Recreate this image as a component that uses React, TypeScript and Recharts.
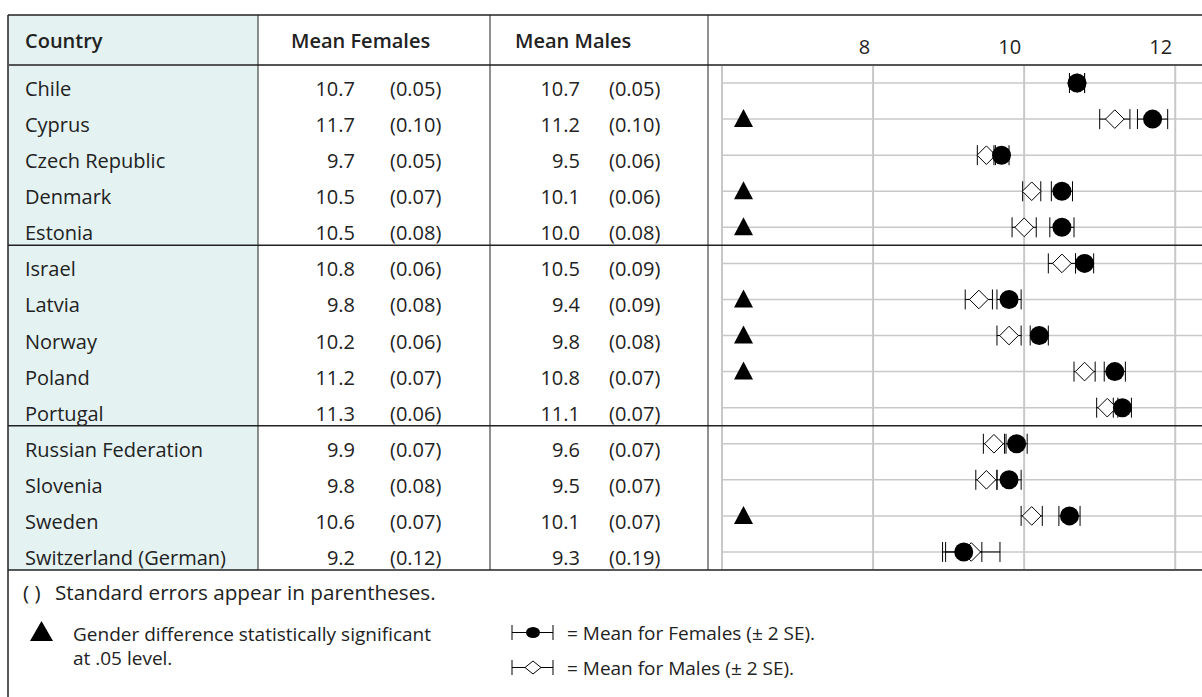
import React from 'react';
import {
  ScatterChart,
  Scatter,
  XAxis,
  YAxis,
  CartesianGrid,
  ErrorBar,
  ReferenceLine,
} from 'recharts';

// table / chart data
const countries = [
  'Chile',
  'Cyprus',
  'Czech Republic',
  'Denmark',
  'Estonia',
  'Israel',
  'Latvia',
  'Norway',
  'Poland',
  'Portugal',
  'Russian Federation',
  'Slovenia',
  'Sweden',
  'Switzerland (German)',
];
const femaleMean = [10.7, 11.7, 9.7, 10.5, 10.5, 10.8, 9.8, 10.2, 11.2, 11.3, 9.9, 9.8, 10.6, 9.2];
const femaleSE = [0.05, 0.1, 0.05, 0.07, 0.08, 0.06, 0.08, 0.06, 0.07, 0.06, 0.07, 0.08, 0.07, 0.12];
const maleMean = [10.7, 11.2, 9.5, 10.1, 10.0, 10.5, 9.4, 9.8, 10.8, 11.1, 9.6, 9.5, 10.1, 9.3];
const maleSE = [0.05, 0.1, 0.06, 0.06, 0.08, 0.09, 0.09, 0.08, 0.07, 0.07, 0.07, 0.07, 0.07, 0.19];
const significant = [false, true, false, true, true, false, true, true, true, false, false, false, true, false];
const groupEnds = [4, 9]; // divider drawn after these rows
const xTicks = [8, 10, 12];
const xDomain: [number, number] = [6, 12.5];

const FONT = '"Open Sans", "Noto Sans", sans-serif';
const INK = '#222';
const GRID = '#c8c8c8';

// layout
const TOP = 15;
const HEAD_BOTTOM = 65;
const BODY_BOTTOM = 570;
const ROW_H = (BODY_BOTTOM - HEAD_BOTTOM) / countries.length;
const COL_X = [258, 490, 708];

const rowIdx = countries.map((_, i) => i);
const femaleData = rowIdx.map((i) => ({ x: femaleMean[i], row: i, err: 2 * femaleSE[i] }));
const maleData = rowIdx.map((i) => ({ x: maleMean[i], row: i, err: 2 * maleSE[i] }));
const sigData = rowIdx.filter((i) => significant[i]).map((i) => ({ x: xDomain[0], row: i }));

const Circle = (p: any) => <circle cx={p.cx} cy={p.cy} r={9.5} fill="#000" />;
const Diamond = (p: any) => {
  const { cx, cy } = p;
  return (
    <polygon
      points={`${cx - 9.3},${cy} ${cx},${cy - 9.3} ${cx + 9.3},${cy} ${cx},${cy + 9.3}`}
      fill="#fff"
      stroke="#000"
      strokeWidth={1}
    />
  );
};
const Triangle = (p: any) => {
  const c = p.cx + 21.5;
  const { cy } = p;
  return <polygon points={`${c - 9.5},${cy + 8} ${c + 9.5},${cy + 8} ${c},${cy - 10}`} fill="#000" />;
};

const XTick = (p: any) => (
  <text x={p.x - 3} y={39} textAnchor="end" fontFamily={FONT} fontSize={20} fill={INK}>
    {p.payload.value}
  </text>
);

const MeanChart = () => (
  <ScatterChart width={505} height={BODY_BOTTOM - TOP} margin={{ top: 0, right: 0, bottom: 0, left: 14 }}>
    <XAxis
      type="number"
      dataKey="x"
      domain={xDomain}
      ticks={xTicks}
      orientation="top"
      height={HEAD_BOTTOM - TOP}
      axisLine={false}
      tickLine={false}
      tick={<XTick />}
      allowDataOverflow
    />
    <YAxis
      type="number"
      dataKey="row"
      domain={[-0.5, countries.length - 0.5]}
      ticks={rowIdx}
      reversed
      hide
    />
    <CartesianGrid vertical={false} stroke={GRID} strokeWidth={1.5} />
    <CartesianGrid horizontal={false} stroke={GRID} strokeWidth={2} />
    <ReferenceLine x={xDomain[0]} stroke={GRID} strokeWidth={2} />
    <Scatter data={sigData} shape={Triangle} isAnimationActive={false} />
    <Scatter data={maleData} shape={Diamond} isAnimationActive={false}>
      <ErrorBar dataKey="err" direction="x" width={10} stroke="#000" strokeWidth={1} isAnimationActive={false} />
    </Scatter>
    <Scatter data={femaleData} shape={Circle} isAnimationActive={false}>
      <ErrorBar dataKey="err" direction="x" width={10} stroke="#000" strokeWidth={1} isAnimationActive={false} />
    </Scatter>
  </ScatterChart>
);

const txt = { fontFamily: FONT, fontSize: 20, fill: INK } as const;
const note = { fontFamily: FONT, fontSize: 19, fill: INK } as const;

export default function App() {
  const baseline = (i: number) => HEAD_BOTTOM + ROW_H * (i + 0.5) + 13;
  return (
    <div
      style={{
        position: 'absolute',
        left: 0,
        top: 0,
        width: 1202,
        height: 697,
        overflow: 'hidden',
        background: '#fff',
      }}
    >
      <svg width={1202} height={697} style={{ position: 'absolute', left: 0, top: 0 }}>
        <rect x={8} y={TOP} width={COL_X[0] - 8} height={BODY_BOTTOM - TOP} fill="#e4f2f2" />
      </svg>
      <div style={{ position: 'absolute', left: COL_X[2], top: TOP }}>
        <MeanChart />
      </div>
      <svg width={1202} height={697} style={{ position: 'absolute', left: 0, top: 0, pointerEvents: 'none' }}>
        {/* frame */}
        <line x1={8} y1={TOP} x2={1202} y2={TOP} stroke={INK} strokeWidth={1.5} />
        <line x1={8} y1={TOP} x2={8} y2={697} stroke={INK} strokeWidth={1.5} />
        <line x1={8} y1={HEAD_BOTTOM} x2={1202} y2={HEAD_BOTTOM} stroke="#555" strokeWidth={2} />
        {groupEnds.map((g) => (
          <line
            key={g}
            x1={8}
            x2={1202}
            y1={HEAD_BOTTOM + ROW_H * (g + 1)}
            y2={HEAD_BOTTOM + ROW_H * (g + 1)}
            stroke={INK}
            strokeWidth={1.5}
          />
        ))}
        <line x1={8} y1={BODY_BOTTOM} x2={1202} y2={BODY_BOTTOM} stroke={INK} strokeWidth={1.5} />
        {COL_X.map((x) => (
          <line key={x} x1={x} x2={x} y1={TOP} y2={BODY_BOTTOM} stroke={INK} strokeWidth={1} />
        ))}

        {/* header */}
        <text x={25} y={48} {...txt} fontWeight={600}>Country</text>
        <text x={291} y={48} {...txt} fontWeight={600}>Mean Females</text>
        <text x={515} y={48} {...txt} fontWeight={600}>Mean Males</text>

        {/* rows */}
        {countries.map((c, i) => (
          <g key={c}>
            <text x={25} y={baseline(i)} {...txt}>{c}</text>
            <text x={355} y={baseline(i)} textAnchor="end" {...txt}>{femaleMean[i].toFixed(1)}</text>
            <text x={390} y={baseline(i)} {...txt}>({femaleSE[i].toFixed(2)})</text>
            <text x={580} y={baseline(i)} textAnchor="end" {...txt}>{maleMean[i].toFixed(1)}</text>
            <text x={609} y={baseline(i)} {...txt}>({maleSE[i].toFixed(2)})</text>
          </g>
        ))}

        {/* notes */}
        <text x={23} y={600} {...txt} fontSize={20.7}>
          ( )<tspan x={55}>Standard errors appear in parentheses.</tspan>
        </text>
        <polygon points="30,641 53,641 41.5,621" fill="#000" />
        <text x={73} y={641} {...note}>Gender difference statistically significant</text>
        <text x={73} y={665} {...note}>at .05 level.</text>

        <line x1={512} x2={512} y1={625} y2={640} stroke="#000" strokeWidth={1} />
        <line x1={553} x2={553} y1={625} y2={640} stroke="#000" strokeWidth={1} />
        <line x1={512} x2={553} y1={632.5} y2={632.5} stroke="#000" strokeWidth={1} />
        <ellipse cx={533} cy={632.5} rx={7} ry={5.5} fill="#000" />
        <text x={567} y={640} {...note}>= Mean for Females (± 2 SE).</text>

        <line x1={512} x2={512} y1={660} y2={675} stroke="#000" strokeWidth={1} />
        <line x1={553} x2={553} y1={660} y2={675} stroke="#000" strokeWidth={1} />
        <line x1={512} x2={553} y1={667.5} y2={667.5} stroke="#000" strokeWidth={1} />
        <polygon points="525,667.5 533,661 541,667.5 533,674" fill="#fff" stroke="#000" strokeWidth={1} />
        <text x={567} y={675} {...note}>= Mean for Males (± 2 SE).</text>
      </svg>
    </div>
  );
}
